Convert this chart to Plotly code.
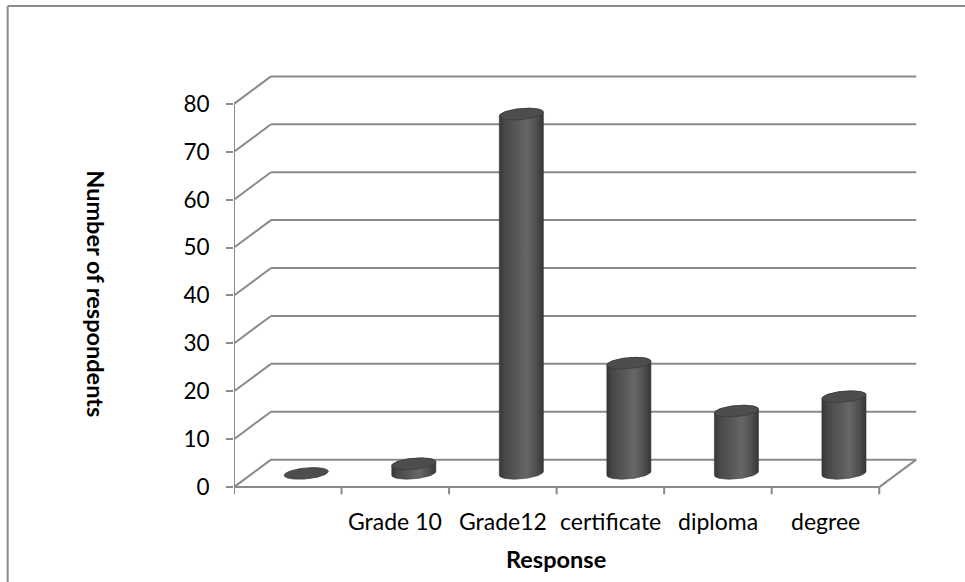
import numpy as np
import plotly.graph_objects as go

# ---- data -------------------------------------------------------------
categories = ["", "Grade 10", "Grade12", "certificate", "diploma", "degree"]
respondents = [0, 2, 75, 23, 13, 16]
y_ticks = [0, 10, 20, 30, 40, 50, 60, 70, 80]

x_title = "Response"
y_title = "Number of respondents"

# ---- geometry of the oblique 3-D box (axis units) ---------------------
DEPTH_X = 0.344      # horizontal shift of the back wall, in categories
DEPTH_Y = 5.73       # vertical shift of the back wall, in value units
RADIUS_X = 0.205     # cylinder half-width
RADIUS_Y = 1.15      # half-height of the elliptical caps
SHEAR = 0.4          # slight tilt of the caps

GRID = "#8a8a8a"
FONT = "Lato"

x_lo, x_hi = -0.5, len(categories) - 0.5

# page layout in pixels
W, H = 965, 582
PX_PER_CAT = 107.5
PX_PER_VAL = 4.8
y_range = [-10, 95]
x_range = [x_lo, 6.0]
m_l = 234.25
m_t = 487.5 - y_range[1] * PX_PER_VAL
m_b = H - (487.5 - y_range[0] * PX_PER_VAL)
m_r = W - (m_l + (x_range[1] - x_range[0]) * PX_PER_CAT)
plot_w = W - m_l - m_r
plot_h = H - m_t - m_b


def px_to_paper(px, py):
    return (px - m_l) / plot_w, (H - m_b - py) / plot_h


fig = go.Figure()
shapes = []


def seg(x0, y0, x1, y1, **kw):
    shapes.append(dict(type="line", xref="x", yref="y", x0=x0, y0=y0, x1=x1, y1=y1,
                       line=dict(color=GRID, width=2), layer="below", **kw))


# back wall gridlines with their oblique connectors to the front axis
for v in y_ticks:
    seg(x_lo, v, x_lo + DEPTH_X, v + DEPTH_Y)
    seg(x_lo + DEPTH_X, v + DEPTH_Y, x_hi + DEPTH_X, v + DEPTH_Y)

# floor: front edge, right edge and category ticks
seg(x_lo, 0, x_hi, 0)
seg(x_hi, 0, x_hi + DEPTH_X, DEPTH_Y)
for k in range(len(categories) + 1):
    seg(x_lo + k, 0, x_lo + k, -1.5)

# value axis line
seg(x_lo, 0, x_lo, max(y_ticks))

# outer frame of the chart area
fx0, fy0 = px_to_paper(8, 5.5)
fx1, _ = px_to_paper(W + 5, 5.5)
_, fy1 = px_to_paper(8, H + 5)
shapes.append(dict(type="line", xref="paper", yref="paper", x0=fx0, y0=fy0, x1=fx1, y1=fy0,
                   line=dict(color="#8c8c8c", width=2)))
shapes.append(dict(type="line", xref="paper", yref="paper", x0=fx0, y0=fy0, x1=fx0, y1=fy1,
                   line=dict(color="#8c8c8c", width=2)))

# ---- cylinders --------------------------------------------------------
body_scale = [[0.0, "#363636"], [0.12, "#474747"], [0.45, "#5b5b5b"],
              [0.62, "#676767"], [0.85, "#4e4e4e"], [1.0, "#363636"]]
t_front = np.linspace(np.pi, 2 * np.pi, 48)
t_back = np.linspace(0, np.pi, 48)
t_full = np.linspace(0, 2 * np.pi, 96)

for i, v in enumerate(respondents):
    cx = i + DEPTH_X / 2
    y_base = DEPTH_Y / 2
    y_cap = y_base + v

    def arc(t, yc):
        return cx + RADIUS_X * np.cos(t), yc + RADIUS_Y * np.sin(t) + SHEAR * np.cos(t)

    if v > 0:
        bx, by = arc(t_front, y_base)
        tx, ty = arc(t_back, y_cap)
        xs = np.concatenate([bx, tx, bx[:1]])
        ys = np.concatenate([by, ty, by[:1]])
        fig.add_trace(go.Scatter(
            x=xs, y=ys, mode="lines", fill="toself",
            line=dict(color="#3a3a3a", width=0.6),
            fillgradient=dict(type="horizontal", colorscale=body_scale),
            hoverinfo="skip", showlegend=False))

    ex, ey = arc(t_full, y_cap)
    fig.add_trace(go.Scatter(
        x=ex, y=ey, mode="lines", fill="toself", fillcolor="#4d4d4d",
        line=dict(color="#3c3c3c", width=0.8),
        hoverinfo="skip", showlegend=False))

# ---- text -------------------------------------------------------------
annotations = []
for i, name in enumerate(categories):
    if name:
        annotations.append(dict(x=i, y=-7.0, xref="x", yref="y", text=name,
                                showarrow=False, xanchor="center", yanchor="middle",
                                font=dict(family=FONT, size=23, color="black")))

# axis titles centred on their axes
tx, ty = px_to_paper(556, 560)
annotations.append(dict(x=tx, y=ty, xref="paper", yref="paper", text=f"<b>{x_title}</b>",
                        showarrow=False, xanchor="center", yanchor="middle",
                        font=dict(family=FONT, size=23.5, color="black")))
tx, ty = px_to_paper(96, 294)
annotations.append(dict(x=tx, y=ty, xref="paper", yref="paper", text=f"<b>{y_title}</b>",
                        showarrow=False, xanchor="center", yanchor="middle", textangle=90,
                        font=dict(family=FONT, size=23.5, color="black")))

fig.update_layout(
    width=W, height=H,
    margin=dict(l=m_l, r=m_r, t=m_t, b=m_b, pad=0, autoexpand=False),
    paper_bgcolor="white", plot_bgcolor="white",
    shapes=shapes, annotations=annotations,
    xaxis=dict(range=x_range, visible=False, fixedrange=True),
    yaxis=dict(range=y_range, tickvals=y_ticks, ticktext=[str(v) for v in y_ticks],
               ticks="outside", ticklen=7, tickwidth=2, tickcolor=GRID,
               ticklabelstandoff=12, showgrid=False, zeroline=False, showline=False,
               automargin=False, fixedrange=True,
               tickfont=dict(family=FONT, size=22.5, color="black")),
)

fig.write_html("out.html")
